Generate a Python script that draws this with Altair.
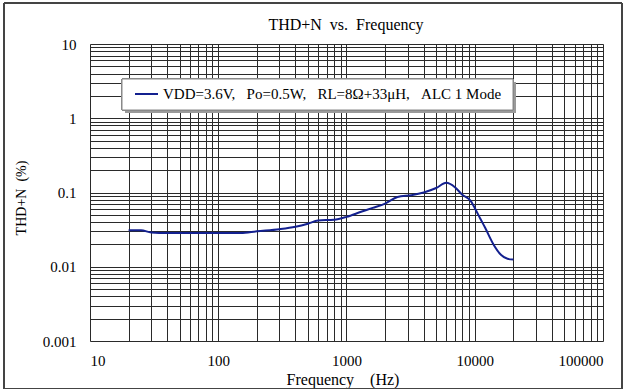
import altair as alt
import pandas as pd

# ---- data ----
freq = [20, 25, 30, 40, 50, 70, 100, 150, 200, 300, 400, 500, 600, 800, 1000,
        1300, 1600, 2000, 2500, 3200, 4000, 5000, 6000, 7000, 8000, 9300,
        10000, 11000, 12000, 14000, 16000, 18000, 20000]
thdn = [0.031, 0.031, 0.029, 0.0285, 0.0285, 0.0285, 0.0285, 0.0285, 0.030,
        0.032, 0.0345, 0.038, 0.042, 0.043, 0.047, 0.055, 0.062, 0.071, 0.087,
        0.092, 0.100, 0.115, 0.135, 0.118, 0.093, 0.077, 0.062, 0.045, 0.034,
        0.020, 0.0145, 0.0128, 0.0125]

x_labels = [10, 100, 1000, 10000, 100000]
y_labels = [0.001, 0.01, 0.1, 1, 10]
minor_mult = [1, 2, 3, 4, 5, 6, 7, 8, 9]
x_grid = [round(m * d, 6) for d in x_labels[:-1] for m in minor_mult] + [x_labels[-1]]
y_grid = [round(m * d, 6) for d in y_labels[:-1] for m in minor_mult] + [y_labels[-1]]

legend_label = "VDD=3.6V,\u2002\u00a0Po=0.5W,\u2002\u00a0RL=8Ω+33μH,\u2002\u00a0ALC 1 Mode"
title_text = "THD+N\u2002vs.\u2002Frequency"
x_title = "Frequency\u2003(Hz)"
y_title = "THD+N\u2002(%)"

FONT = "Liberation Serif"
LINE_COLOR = "#13208f"
GRID_COLOR = "#2a2a2a"

df = pd.DataFrame({"freq": freq, "thdn": thdn})

def label_expr(vals):
    arr = ",".join(repr(v) for v in vals)
    return f"indexof([{arr}], datum.value) >= 0 ? format(datum.value, '~g') : ''"

x_scale = alt.Scale(type="log", domain=[x_labels[0], x_labels[-1]], nice=False)
y_scale = alt.Scale(type="log", domain=[y_labels[0], y_labels[-1]], nice=False)

line = alt.Chart(df).mark_line(
    color=LINE_COLOR, strokeWidth=2, interpolate="monotone"
).encode(
    x=alt.X("freq:Q", scale=x_scale,
            axis=alt.Axis(values=x_grid, labelExpr=label_expr(x_labels),
                          grid=True, gridColor=GRID_COLOR, gridOpacity=1, gridWidth=1,
                          ticks=False, domain=False, labelOverlap=False,
                          labelPadding=12, labelFontSize=15, labelFont=FONT,
                          labelColor="black", title=None)),
    y=alt.Y("thdn:Q", scale=y_scale,
            axis=alt.Axis(values=y_grid, labelExpr=label_expr(y_labels),
                          grid=True, gridColor=GRID_COLOR, gridOpacity=1, gridWidth=1,
                          ticks=False, domain=False, labelOverlap=False,
                          labelPadding=14, labelFontSize=15, labelFont=FONT,
                          labelColor="black", title=None)),
)

# legend box (shadow + box + sample line + text)
shadow = alt.Chart(df).mark_rect(fill="#9a9a9a").encode(
    x=alt.value(35), x2=alt.value(426), y=alt.value(38), y2=alt.value(69))
box = alt.Chart(df).mark_rect(fill="white", stroke="#888888", strokeWidth=1).encode(
    x=alt.value(32), x2=alt.value(423), y=alt.value(35), y2=alt.value(66))
leg_line = alt.Chart(df).mark_rule(color=LINE_COLOR, strokeWidth=2).encode(
    x=alt.value(45), x2=alt.value(68), y=alt.value(50))
leg_text = alt.Chart(pd.DataFrame({"t": [legend_label]})).mark_text(
    align="left", baseline="middle", font=FONT, fontSize=15, color="black"
).encode(x=alt.value(73), y=alt.value(50), text="t:N")

# chart and axis titles drawn as text
title = alt.Chart(pd.DataFrame({"t": [title_text]})).mark_text(
    align="center", baseline="middle", font=FONT, fontSize=16, color="black"
).encode(x=alt.value(256), y=alt.value(-19), text="t:N")
xt = alt.Chart(pd.DataFrame({"t": [x_title]})).mark_text(
    align="center", baseline="middle", font=FONT, fontSize=16, color="black"
).encode(x=alt.value(253), y=alt.value(336), text="t:N")
yt = alt.Chart(pd.DataFrame({"t": [y_title]})).mark_text(
    align="center", baseline="middle", font=FONT, fontSize=14, color="black", angle=270
).encode(x=alt.value(-68), y=alt.value(154), text="t:N")

# outer chart frame
frame = alt.Chart(df).mark_rect(fill=None, stroke="#444444", strokeWidth=1).encode(
    x=alt.value(-86), x2=alt.value(532), y=alt.value(-41), y2=alt.value(345))

chart = alt.layer(line, shadow, box, leg_line, leg_text, title, xt, yt, frame).properties(
    width=513, height=297,
    autosize=alt.AutoSizeParams(type="none"),
    padding={"left": 90, "top": 44, "right": 22, "bottom": 48},
).configure_view(stroke="black", strokeWidth=1.2).configure(background="white")

chart.save("out.html", embed_options={"renderer": "svg", "actions": False})
